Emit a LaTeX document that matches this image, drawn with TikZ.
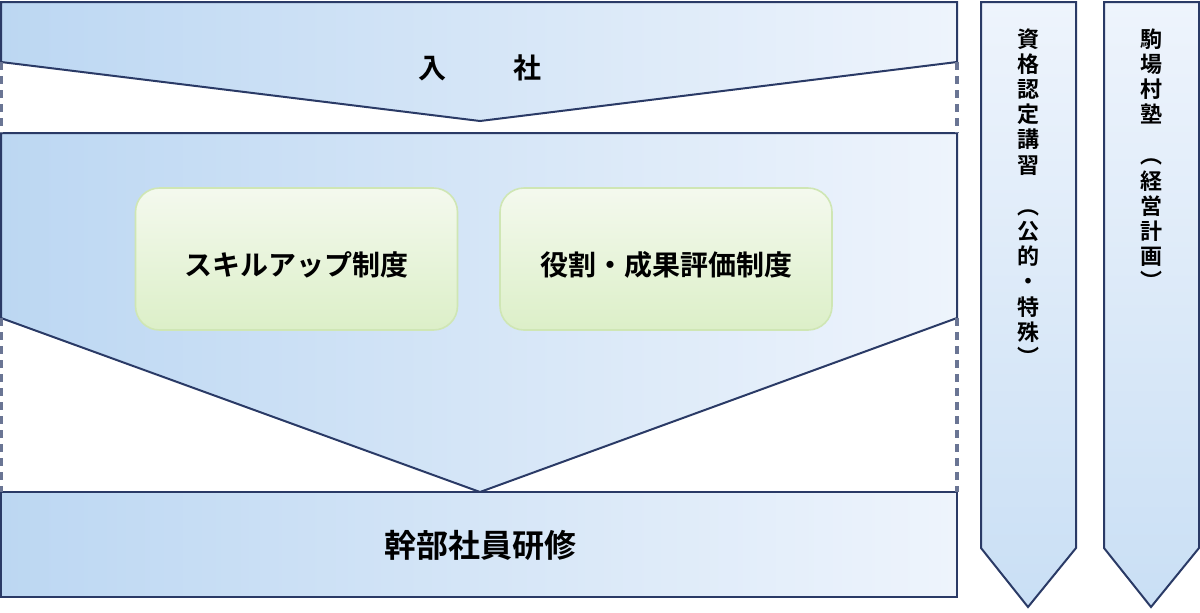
\documentclass[tikz,border=0pt]{standalone}
\usepackage{fontspec}
\newfontfamily\jpfont{Noto Sans CJK JP}[BoldFont={Noto Sans CJK JP Bold}]
\usetikzlibrary{positioning}
\definecolor{edgeblue}{HTML}{2A3A66}
\definecolor{skyfill}{HTML}{BCD7F2}
\definecolor{palefill}{HTML}{EEF4FC}
\definecolor{leafgreen}{HTML}{DCEFC8}
\definecolor{paleleaf}{HTML}{F4F9EE}
\definecolor{leafedge}{HTML}{CFE6B4}
\tikzset{
  band/.style={draw=edgeblue, line width=1pt, left color=skyfill, right color=palefill},
  pillar/.style={draw=edgeblue, line width=1pt, top color=palefill, bottom color=skyfill!80},
  sysbox/.style={draw=leafedge, line width=0.8pt, rounded corners=12pt, top color=paleleaf, bottom color=leafgreen},
  gap/.style={draw=edgeblue!70, line width=1.6pt, dash pattern=on 4pt off 3pt},
  lbl/.style={font=\jpfont\bfseries\fontsize{14}{16}\selectfont, text=black},
  vlbl/.style={font=\jpfont\bfseries\fontsize{11}{12.6}\selectfont, align=center, anchor=north, inner sep=0pt},
}
\begin{document}
\begin{tikzpicture}[x=0.5pt,y=-0.5pt]
\useasboundingbox (0,0) rectangle (1200,612);

%% ===== BANDS =====
\filldraw[band] (1,2) -- (957,2) -- (957,62) -- (480,121) -- (1,62) -- cycle;
\filldraw[band] (1,133) -- (957,133) -- (957,318) -- (480,492) -- (1,318) -- cycle;
\filldraw[band] (1,492) rectangle (957,597);
\draw[gap] (1,62) -- (1,133);
\draw[gap] (957,62) -- (957,133);
\draw[gap] (1,318) -- (1,492);
\draw[gap] (957,318) -- (957,492);

\node[lbl] (JOIN) at (480,68) {入\hspace{2.4em}社};
\node[lbl, font=\jpfont\bfseries\fontsize{16}{18}\selectfont] (EXEC) at (480,545) {幹部社員研修};

%% ===== SYSTEMS =====
\node[sysbox, minimum width=161pt, minimum height=71pt] (SKILL) at (296.5,259) {};
\node[lbl] at (SKILL) [yshift=-3pt] {スキルアップ制度};
\node[sysbox, minimum width=166pt, minimum height=71pt] (EVAL) at (666,259) {};
\node[lbl] at (EVAL) [yshift=-3pt] {役割・成果評価制度};

%% ===== PILLARS =====
\filldraw[pillar] (981,2) -- (1076,2) -- (1076,548) -- (1028,607) -- (981,548) -- cycle;
\filldraw[pillar] (1104,2) -- (1199,2) -- (1199,548) -- (1151,607) -- (1104,548) -- cycle;
\node[vlbl] (QUAL) at (1028,28) {資\\格\\認\\定\\講\\習\\[8pt]︵\\公\\的\\・\\特\\殊\\︶};
\node[vlbl] (KOMA) at (1151,28) {駒\\場\\村\\塾\\[8pt]︵\\経\\営\\計\\画\\︶};
\end{tikzpicture}
\end{document}
